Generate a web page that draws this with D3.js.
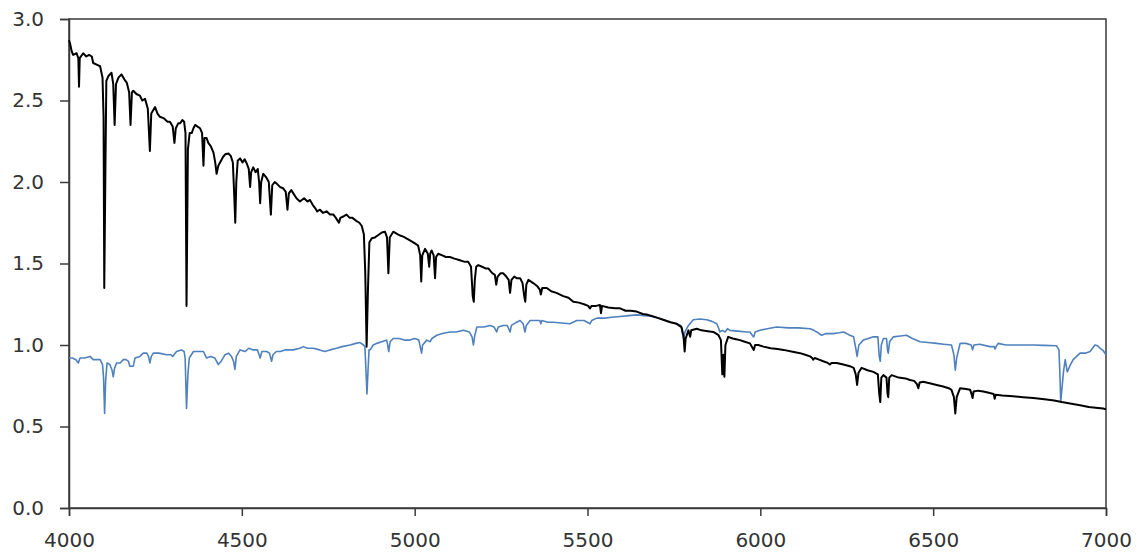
<!DOCTYPE html>
<html>
<head>
<meta charset="utf-8">
<script src="https://cdn.jsdelivr.net/npm/d3@7"></script>
<style>
  body { margin: 0; background: #fff; }
  svg text { font-family: "DejaVu Sans", Verdana, sans-serif; }
</style>
</head>
<body>
<div id="chart"></div>
<script>
// wavelength (A) / flux pairs
const starFlux = [
  [4000,2.87],[4003,2.85],[4008,2.80],[4012,2.78],[4022,2.79],[4027,2.76],[4029,2.585],[4031,2.76],[4041,2.79],[4050,2.77],
  [4058,2.78],[4066,2.77],[4070,2.73],[4080,2.72],[4090,2.71],[4097,2.64],[4100,2.40],[4102,1.35],[4105,2.00],[4108,2.62],
  [4114,2.65],[4123,2.67],[4128,2.60],[4132,2.35],[4136,2.60],[4143,2.64],[4152,2.66],[4160,2.63],[4167,2.61],[4174,2.55],
  [4178,2.35],[4182,2.55],[4186,2.56],[4195,2.54],[4205,2.53],[4212,2.50],[4220,2.51],[4228,2.45],[4234,2.19],[4238,2.42],
  [4249,2.46],[4256,2.42],[4263,2.40],[4275,2.39],[4285,2.37],[4292,2.37],[4300,2.34],[4305,2.24],[4309,2.33],[4316,2.36],
  [4321,2.36],[4328,2.38],[4333,2.37],[4337,2.30],[4340,1.24],[4344,2.20],[4349,2.30],[4355,2.30],[4360,2.33],[4365,2.35],
  [4372,2.34],[4379,2.33],[4385,2.30],[4389,2.10],[4392,2.27],[4398,2.27],[4403,2.24],[4410,2.22],[4418,2.18],[4423,2.12],
  [4427,2.05],[4432,2.10],[4437,2.12],[4446,2.155],[4452,2.17],[4461,2.175],[4468,2.16],[4474,2.12],[4478,1.92],[4481,1.75],
  [4484,2.00],[4488,2.13],[4495,2.145],[4502,2.12],[4508,2.14],[4514,2.115],[4520,2.08],[4524,1.97],[4527,2.06],[4533,2.09],
  [4540,2.06],[4546,2.08],[4550,2.00],[4553,1.87],[4556,2.00],[4562,2.05],[4570,2.03],[4578,2.00],[4584,1.80],[4588,1.98],
  [4595,2.00],[4601,1.99],[4610,1.97],[4620,1.96],[4627,1.94],[4632,1.83],[4636,1.93],[4643,1.95],[4649,1.93],[4658,1.90],
  [4668,1.88],[4680,1.90],[4690,1.88],[4697,1.89],[4705,1.86],[4712,1.84],[4718,1.82],[4726,1.83],[4735,1.81],[4745,1.82],
  [4755,1.80],[4765,1.80],[4772,1.78],[4778,1.76],[4781,1.75],[4785,1.78],[4795,1.79],[4803,1.80],[4812,1.78],[4820,1.78],
  [4832,1.76],[4840,1.75],[4847,1.73],[4853,1.68],[4857,1.45],[4861,0.99],[4865,1.35],[4869,1.63],[4876,1.655],[4885,1.66],
  [4895,1.675],[4905,1.69],[4914,1.695],[4920,1.66],[4924,1.44],[4928,1.66],[4938,1.695],[4950,1.68],[4960,1.67],[4967,1.665],
  [4980,1.65],[4996,1.63],[5003,1.62],[5010,1.61],[5016,1.55],[5019,1.39],[5022,1.55],[5030,1.59],[5038,1.56],[5042,1.48],
  [5045,1.56],[5049,1.58],[5055,1.55],[5059,1.41],[5062,1.54],[5068,1.56],[5080,1.55],[5090,1.54],[5102,1.54],[5115,1.53],
  [5131,1.52],[5145,1.51],[5155,1.51],[5163,1.48],[5168,1.30],[5171,1.265],[5174,1.40],[5178,1.48],[5184,1.49],[5195,1.48],
  [5205,1.47],[5213,1.47],[5225,1.44],[5232,1.43],[5236,1.37],[5240,1.42],[5248,1.44],[5256,1.44],[5265,1.42],[5272,1.40],
  [5276,1.32],[5280,1.40],[5288,1.42],[5295,1.41],[5305,1.41],[5312,1.38],[5317,1.30],[5320,1.265],[5323,1.37],[5329,1.40],
  [5343,1.38],[5355,1.36],[5362,1.34],[5365,1.31],[5369,1.35],[5382,1.35],[5395,1.33],[5410,1.32],[5430,1.30],[5445,1.29],
  [5459,1.265],[5475,1.26],[5490,1.25],[5502,1.24],[5507,1.225],[5512,1.24],[5525,1.24],[5536,1.245],[5539,1.195],[5542,1.24],
  [5560,1.23],[5580,1.225],[5594,1.225],[5610,1.21],[5625,1.21],[5642,1.205],[5660,1.19],[5675,1.185],[5690,1.175],[5705,1.165],
  [5719,1.155],[5740,1.14],[5758,1.13],[5772,1.11],[5778,1.05],[5781,0.96],[5784,1.04],[5792,1.09],[5797,1.05],[5800,1.09],
  [5816,1.10],[5830,1.09],[5848,1.085],[5864,1.08],[5879,1.06],[5886,1.03],[5890,0.82],[5893,0.94],[5896,0.805],[5899,1.00],
  [5907,1.05],[5920,1.04],[5930,1.035],[5941,1.03],[5955,1.02],[5970,1.01],[5978,0.98],[5981,0.97],[5985,1.0],[5994,1.0],
  [6009,0.99],[6030,0.98],[6050,0.975],[6067,0.97],[6090,0.96],[6115,0.95],[6130,0.94],[6144,0.93],[6150,0.92],[6153,0.91],
  [6157,0.92],[6170,0.91],[6182,0.90],[6195,0.89],[6201,0.88],[6206,0.89],[6221,0.89],[6240,0.88],[6259,0.87],[6270,0.86],
  [6276,0.82],[6280,0.755],[6284,0.83],[6293,0.86],[6310,0.845],[6327,0.835],[6340,0.82],[6344,0.70],[6347,0.65],[6350,0.80],
  [6356,0.815],[6365,0.80],[6368,0.70],[6370,0.68],[6373,0.80],[6380,0.815],[6400,0.80],[6420,0.795],[6433,0.785],[6445,0.78],
  [6453,0.76],[6457,0.735],[6461,0.77],[6471,0.775],[6490,0.765],[6510,0.755],[6529,0.745],[6545,0.735],[6553,0.725],[6560,0.68],
  [6564,0.58],[6568,0.68],[6578,0.735],[6595,0.73],[6607,0.725],[6611,0.70],[6614,0.675],[6617,0.715],[6630,0.72],[6645,0.715],
  [6664,0.705],[6675,0.70],[6678,0.67],[6681,0.695],[6700,0.69],[6731,0.685],[6760,0.68],[6790,0.675],[6828,0.665],[6850,0.66],
  [6872,0.65],[6900,0.64],[6925,0.63],[6950,0.62],[6970,0.615],[6992,0.61],[7000,0.605]
];

const ratioFlux = [
  [4000,0.92],[4010,0.92],[4020,0.91],[4027,0.89],[4032,0.92],[4045,0.92],[4061,0.93],[4070,0.91],[4090,0.91],[4097,0.88],
  [4100,0.80],[4103,0.58],[4106,0.78],[4110,0.89],[4118,0.88],[4124,0.85],[4128,0.805],[4132,0.86],[4138,0.89],[4148,0.89],
  [4157,0.91],[4165,0.91],[4172,0.90],[4176,0.87],[4186,0.87],[4191,0.92],[4205,0.93],[4215,0.95],[4225,0.95],[4230,0.93],
  [4234,0.89],[4238,0.93],[4244,0.95],[4260,0.95],[4283,0.94],[4295,0.94],[4300,0.93],[4311,0.96],[4325,0.97],[4333,0.96],
  [4336,0.92],[4340,0.61],[4344,0.82],[4348,0.92],[4360,0.96],[4375,0.96],[4389,0.96],[4398,0.92],[4410,0.93],[4422,0.92],
  [4432,0.88],[4440,0.90],[4451,0.94],[4462,0.95],[4470,0.93],[4476,0.90],[4480,0.85],[4484,0.93],[4495,0.97],[4510,0.96],
  [4520,0.98],[4533,0.97],[4545,0.97],[4550,0.94],[4553,0.92],[4558,0.96],[4572,0.96],[4580,0.95],[4586,0.90],[4590,0.94],
  [4600,0.96],[4611,0.96],[4625,0.97],[4640,0.97],[4649,0.97],[4668,0.98],[4678,0.99],[4690,0.98],[4707,0.98],[4725,0.97],
  [4740,0.96],[4755,0.97],[4774,0.98],[4790,0.99],[4813,1.0],[4830,1.01],[4842,1.015],[4852,1.00],[4856,0.99],[4859,0.85],
  [4862,0.70],[4865,0.84],[4868,0.97],[4871,0.97],[4880,1.00],[4890,1.01],[4905,1.02],[4919,1.03],[4922,1.00],[4925,0.96],
  [4929,1.02],[4938,1.04],[4955,1.04],[4970,1.03],[4986,1.03],[5000,1.04],[5012,1.03],[5017,0.98],[5020,0.95],[5023,1.00],
  [5035,1.03],[5045,1.02],[5050,1.04],[5064,1.06],[5080,1.07],[5102,1.08],[5120,1.08],[5141,1.09],[5158,1.08],[5166,1.05],
  [5170,1.00],[5174,1.06],[5180,1.11],[5200,1.11],[5218,1.12],[5230,1.11],[5237,1.08],[5242,1.11],[5256,1.12],[5268,1.12],
  [5276,1.08],[5280,1.12],[5295,1.14],[5305,1.15],[5314,1.13],[5319,1.08],[5323,1.12],[5334,1.15],[5350,1.15],[5362,1.15],
  [5365,1.13],[5368,1.15],[5385,1.14],[5401,1.14],[5425,1.135],[5449,1.13],[5469,1.15],[5490,1.15],[5507,1.13],[5512,1.15],
  [5527,1.165],[5550,1.165],[5570,1.17],[5594,1.175],[5620,1.18],[5642,1.185],[5665,1.18],[5690,1.175],[5705,1.165],[5719,1.155],
  [5740,1.14],[5758,1.13],[5770,1.12],[5774,1.08],[5778,1.04],[5782,1.08],[5792,1.12],[5806,1.155],[5825,1.16],[5845,1.155],
  [5860,1.145],[5874,1.13],[5880,1.10],[5883,1.08],[5890,1.09],[5898,1.08],[5905,1.10],[5912,1.09],[5935,1.085],[5960,1.08],
  [5970,1.08],[5978,1.055],[5981,1.05],[5985,1.08],[5999,1.09],[6020,1.10],[6047,1.11],[6080,1.105],[6110,1.105],[6144,1.10],
  [6155,1.09],[6163,1.08],[6177,1.06],[6190,1.07],[6211,1.07],[6228,1.075],[6240,1.08],[6250,1.07],[6259,1.06],[6270,1.05],
  [6276,0.98],[6280,0.93],[6285,1.00],[6298,1.03],[6312,1.04],[6327,1.05],[6340,1.05],[6344,0.93],[6347,0.90],[6350,1.00],
  [6356,1.04],[6365,1.04],[6368,0.97],[6370,0.95],[6374,1.02],[6385,1.05],[6405,1.055],[6423,1.06],[6440,1.04],[6462,1.02],
  [6485,1.015],[6510,1.01],[6530,1.005],[6553,1.0],[6560,0.94],[6564,0.845],[6568,0.92],[6578,1.01],[6595,1.01],[6610,1.0],
  [6614,0.97],[6618,1.0],[6635,1.005],[6664,0.99],[6677,0.99],[6679,0.975],[6682,0.99],[6688,1.01],[6710,1.0],[6732,1.0],
  [6760,1.0],[6790,1.0],[6820,0.998],[6857,0.995],[6864,0.97],[6867,0.80],[6869,0.65],[6872,0.72],[6877,0.835],[6882,0.91],
  [6888,0.835],[6895,0.87],[6905,0.91],[6925,0.95],[6940,0.95],[6954,0.96],[6968,1.0],[6976,0.995],[6983,0.98],[6992,0.965],
  [7000,0.94]
];

const xTicks = [4000, 4500, 5000, 5500, 6000, 6500, 7000];
const yTicks = [0, 0.5, 1.0, 1.5, 2.0, 2.5, 3.0];

const width = 1137, height = 553;
const margin = { top: 19, right: 31, bottom: 45, left: 69 };

const svg = d3.select('#chart').append('svg')
    .attr('width', width)
    .attr('height', height);

const x = d3.scaleLinear().domain([4000, 7000]).range([margin.left, width - margin.right]);
const y = d3.scaleLinear().domain([0, 3]).range([height - margin.bottom, margin.top]);

// plot frame
svg.append('rect')
    .attr('x', margin.left)
    .attr('y', margin.top)
    .attr('width', x(7000) - x(4000))
    .attr('height', y(0) - y(3))
    .attr('fill', 'none')
    .attr('stroke', '#3a3a3a')
    .attr('stroke-width', 1.5);

const xAxis = svg.append('g')
    .attr('transform', 'translate(0,' + y(0) + ')')
    .call(d3.axisBottom(x).tickValues(xTicks).tickFormat(d3.format('d')).tickSize(8).tickPadding(17));

const yAxis = svg.append('g')
    .attr('transform', 'translate(' + margin.left + ',0)')
    .call(d3.axisLeft(y).tickValues(yTicks).tickFormat(d3.format('.1f')).tickSize(9).tickPadding(16));

[xAxis, yAxis].forEach(function(g) {
    g.select('.domain').attr('stroke', '#3a3a3a').attr('stroke-width', 1.5);
    g.selectAll('.tick line').attr('stroke', '#3a3a3a').attr('stroke-width', 1.5);
    g.selectAll('.tick text')
        .style('font-size', '20px')
        .style('font-family', '"DejaVu Sans", Verdana, sans-serif')
        .attr('fill', '#333');
});

const line = d3.line()
    .x(function(d) { return x(d[0]); })
    .y(function(d) { return y(d[1]); });

svg.append('path')
    .datum(ratioFlux)
    .attr('fill', 'none')
    .attr('stroke', '#4f81bd')
    .attr('stroke-width', 1.6)
    .attr('stroke-linejoin', 'round')
    .attr('d', line);

svg.append('path')
    .datum(starFlux)
    .attr('fill', 'none')
    .attr('stroke', '#000')
    .attr('stroke-width', 2)
    .attr('stroke-linejoin', 'round')
    .attr('d', line);
</script>
</body>
</html>
